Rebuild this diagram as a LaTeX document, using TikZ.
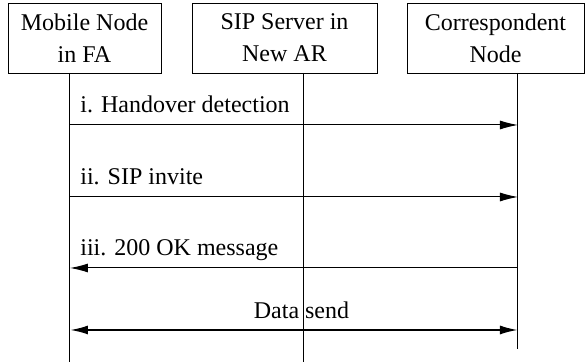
\documentclass[tikz,border=0pt]{standalone}
\usepackage{fontspec}
\setmainfont{Liberation Serif}
\usetikzlibrary{positioning,arrows.meta}
\tikzset{
    actor box/.style={rectangle, draw, align=center, inner sep=0pt, minimum height=35pt, font=\fontsize{12}{16}\selectfont},
    lifeline/.style={line width=0.5pt},
    message/.style={-{Latex[length=9pt, width=4.5pt]}, line width=0.5pt},
    back message/.style={{Latex[length=9pt, width=4.5pt]}-, line width=0.5pt},
    data message/.style={{Latex[length=9pt, width=4.5pt]}-{Latex[length=9pt, width=4.5pt]}, line width=1pt},
    message label/.style={inner sep=0pt, font=\fontsize{12}{14}\selectfont}
}

\begin{document}
\begin{tikzpicture}[x=0.5pt, y=-0.5pt]
    \useasboundingbox (0,0) rectangle (586,362);

    % Entities
    \node[actor box, minimum width=76.5pt] (MN) at (84.5,38) {Mobile Node\\in FA};
    \node[actor box, minimum width=92.5pt] (SIP) at (284.5,38) {SIP Server in\\New AR};
    \node[actor box, minimum width=88.5pt] (CN) at (495.5,38) {Correspondent\\Node};

    % Lifelines
    \coordinate (MN-top) at (70,73);
    \coordinate (MN-end) at (70,362);
    \coordinate (SIP-top) at (304,73);
    \coordinate (SIP-end) at (304,362);
    \coordinate (CN-top) at (518,73);
    \coordinate (CN-end) at (518,349);
    \foreach \e in {MN,SIP,CN} {
        \draw[lifeline] (\e-top) -- (\e-end);
    }

    % Message end points on the lifelines
    \foreach \m/\y in {i/125, ii/197, iii/268, data/330} {
        \coordinate (MN-\m) at (70,\y);
        \coordinate (CN-\m) at (518,\y);
    }

    % Messages
    \draw[message] (MN-i) -- (CN-i);
    \node[message label, anchor=base west] (L-i) at (80,113) {i. Handover detection};

    \draw[message] (MN-ii) -- (CN-ii);
    \node[message label, anchor=base west] (L-ii) at (80,185) {ii. SIP invite};

    \draw[back message] (MN-iii) -- (CN-iii);
    \node[message label, anchor=base west] (L-iii) at (80,256) {iii. 200 OK message};

    \draw[data message] (MN-data) -- (CN-data);
    \node[message label, anchor=base] (L-data) at (301.5,319) {Data send};
\end{tikzpicture}
\end{document}
